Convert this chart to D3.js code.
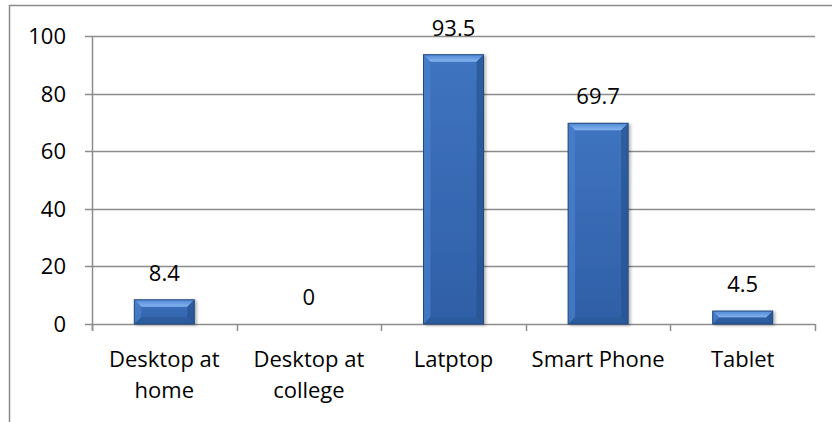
<!DOCTYPE html>
<html>
<head>
<meta charset="utf-8">
<script src="https://cdn.jsdelivr.net/npm/d3@7"></script>
<style>
  html, body { margin: 0; padding: 0; background: #fff; }
  svg { display: block; }
  text { font-family: "Open Sans", "Noto Sans", sans-serif; fill: #000; }
</style>
</head>
<body>
<svg id="chart" width="832" height="422"></svg>
<script>
// Devices used (percent of respondents)
const categories = [["Desktop at", "home"], ["Desktop at", "college"], ["Latptop"], ["Smart Phone"], ["Tablet"]];
const values = [8.4, 0, 93.5, 69.7, 4.5];
const yTicks = [0, 20, 40, 60, 80, 100];

const svg = d3.select("#chart");
const W = 832, H = 422;
const plot = { left: 92, right: 815, top: 36, bottom: 324 };
const fontSize = 22;

// chart frame
svg.append("path")
  .attr("d", `M9.5,${H + 2} V5.5 H${W + 2}`)
  .attr("fill", "none").attr("stroke", "#8a8a8a").attr("stroke-width", 1.5);

const x = d3.scaleBand().domain(d3.range(categories.length))
  .range([plot.left, plot.right]).padding(0);
const y = d3.scaleLinear().domain([0, 100]).range([plot.bottom, plot.top]);
const barW = x.bandwidth() * 0.415;

// gradients for the bevelled bars
const defs = svg.append("defs");
const faceGrad = defs.append("linearGradient").attr("id", "face").attr("x1", 0).attr("y1", 0).attr("x2", 0).attr("y2", 1);
faceGrad.append("stop").attr("offset", "0%").attr("stop-color", "#3f74c0");
faceGrad.append("stop").attr("offset", "100%").attr("stop-color", "#2f5fa6");
const topGrad = defs.append("linearGradient").attr("id", "bevTop").attr("x1", 0).attr("y1", 0).attr("x2", 0).attr("y2", 1);
topGrad.append("stop").attr("offset", "0%").attr("stop-color", "#4f88d4");
topGrad.append("stop").attr("offset", "100%").attr("stop-color", "#86b5f0");
const shadow = defs.append("filter").attr("id", "shadow").attr("x", "-20%").attr("y", "-20%").attr("width", "150%").attr("height", "150%");
shadow.append("feGaussianBlur").attr("in", "SourceAlpha").attr("stdDeviation", 1.5).attr("result", "b");
shadow.append("feOffset").attr("in", "b").attr("dx", 2).attr("dy", 1).attr("result", "o");
shadow.append("feComponentTransfer").attr("in", "o").attr("result", "s")
  .append("feFuncA").attr("type", "linear").attr("slope", 0.3);
const merge = shadow.append("feMerge");
merge.append("feMergeNode").attr("in", "s");
merge.append("feMergeNode").attr("in", "SourceGraphic");

// horizontal gridlines with their tick stubs
svg.append("g").selectAll("line").data(yTicks).join("line")
  .attr("x1", plot.left - 7).attr("x2", plot.right)
  .attr("y1", d => Math.round(y(d)) + 0.5).attr("y2", d => Math.round(y(d)) + 0.5)
  .attr("stroke", "#8c8c8c").attr("stroke-width", 1.5);

// y axis line
svg.append("line")
  .attr("x1", plot.left + 0.5).attr("x2", plot.left + 0.5)
  .attr("y1", plot.top).attr("y2", plot.bottom + 7)
  .attr("stroke", "#8c8c8c").attr("stroke-width", 1.5);

// x axis tick marks at band boundaries
const bounds = d3.range(categories.length + 1).map(i => plot.left + i * x.step());
svg.append("g").selectAll("line").data(bounds).join("line")
  .attr("x1", d => Math.round(d) + 0.5).attr("x2", d => Math.round(d) + 0.5)
  .attr("y1", plot.bottom).attr("y2", plot.bottom + 7)
  .attr("stroke", "#8c8c8c").attr("stroke-width", 1.5);

// y tick labels
svg.append("g").selectAll("text").data(yTicks).join("text")
  .attr("x", 66).attr("y", d => y(d)).attr("dy", "0.36em")
  .attr("text-anchor", "end").attr("font-size", fontSize)
  .text(d => d);

// bars
const bev = 7;
const bars = svg.append("g").selectAll("g").data(values).join("g")
  .attr("filter", "url(#shadow)");
bars.each(function (v, i) {
  if (v <= 0) return;
  const g = d3.select(this);
  const x0 = x(i) + (x.bandwidth() - barW) / 2, x1 = x0 + barW;
  const y0 = y(v), y1 = y(0);
  const b = Math.min(bev, (y1 - y0) / 2);
  g.append("rect").attr("x", x0).attr("y", y0).attr("width", barW).attr("height", y1 - y0)
    .attr("fill", "url(#face)");
  // top bevel
  g.append("path").attr("d", `M${x0},${y0} L${x1},${y0} L${x1 - b},${y0 + b} L${x0 + b},${y0 + b} Z`)
    .attr("fill", "url(#bevTop)");
  // left bevel
  g.append("path").attr("d", `M${x0},${y0} L${x0 + b},${y0 + b} L${x0 + b},${y1 - b} L${x0},${y1} Z`)
    .attr("fill", "#4a80cc").attr("opacity", 0.7);
  // right bevel
  g.append("path").attr("d", `M${x1},${y0} L${x1 - b},${y0 + b} L${x1 - b},${y1 - b} L${x1},${y1} Z`)
    .attr("fill", "#27538f").attr("opacity", 0.7);
  // bottom bevel
  g.append("path").attr("d", `M${x0},${y1} L${x0 + b},${y1 - b} L${x1 - b},${y1 - b} L${x1},${y1} Z`)
    .attr("fill", "#2a5898").attr("opacity", 0.6);
  g.append("rect").attr("x", x0).attr("y", y0).attr("width", barW).attr("height", y1 - y0)
    .attr("fill", "none").attr("stroke", "#24497f").attr("stroke-width", 1);
});

// value labels
svg.append("g").selectAll("text").data(values).join("text")
  .attr("x", (d, i) => x(i) + x.bandwidth() / 2)
  .attr("y", d => y(d) - 19)
  .attr("text-anchor", "middle").attr("font-size", fontSize)
  .text(d => d);

// category labels
const cat = svg.append("g").selectAll("text").data(categories).join("text")
  .attr("text-anchor", "middle").attr("font-size", fontSize);
cat.selectAll("tspan").data((d, i) => d.map(s => ({ s, i }))).join("tspan")
  .attr("x", d => x(d.i) + x.bandwidth() / 2)
  .attr("y", (d, j) => 367 + j * 31)
  .text(d => d.s);
</script>
</body>
</html>
